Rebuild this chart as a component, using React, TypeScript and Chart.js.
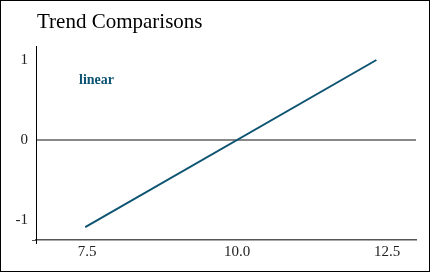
import React, { useEffect, useRef } from 'react';
import { Chart, registerables } from 'chart.js';

Chart.register(...registerables);

const titleText = 'Trend Comparisons';
const seriesLabel = 'linear';
const xValues = [7.47, 12.32];
const yValues = [-1.09, 1.0];
const xTicks = [7.5, 10.0, 12.5];
const yTicks = [-1, 0, 1];

export default function App() {
  const ref = useRef<HTMLCanvasElement>(null);

  useEffect(() => {
    const canvas = ref.current;
    if (!canvas) return;
    const lineColor = '#0e5472';
    const family = '"Liberation Serif", "Times New Roman", serif';

    const deco = {
      id: 'deco',
      afterDraw(chart: any) {
        const c = chart.ctx;
        const a = chart.chartArea;
        c.save();
        c.strokeStyle = '#000';
        c.lineWidth = 1;
        c.strokeRect(0.5, 0.5, chart.width - 1, chart.height - 1);
        // small corner ticks
        c.beginPath();
        c.moveTo(a.left + 0.5, a.bottom);
        c.lineTo(a.left + 0.5, a.bottom + 4);
        c.stroke();
        c.strokeStyle = '#555';
        c.beginPath();
        c.moveTo(a.left - 4, a.bottom + 0.5);
        c.lineTo(a.left, a.bottom + 0.5);
        c.stroke();
        c.fillStyle = '#000';
        c.textAlign = 'left';
        c.textBaseline = 'alphabetic';
        c.font = `21px ${family}`;
        c.fillText(titleText, a.left + 1, 28);
        c.fillStyle = lineColor;
        c.font = `bold 14px ${family}`;
        c.fillText(seriesLabel, a.left + 43, 84);
        c.restore();
      },
    };

    const chart = new Chart(canvas, {
      type: 'line',
      data: {
        datasets: [
          {
            label: seriesLabel,
            data: xValues.map((x, i) => ({ x, y: yValues[i] })),
            borderColor: lineColor,
            borderWidth: 2,
            pointRadius: 0,
            fill: false,
            tension: 0,
          },
        ],
      },
      options: {
        responsive: false,
        animation: false,
        layout: { padding: { top: 46, right: 14, left: 0, bottom: 0 } },
        plugins: {
          legend: { display: false },
          tooltip: { enabled: false },
          title: { display: false },
        },
        scales: {
          x: {
            type: 'linear',
            position: 'bottom',
            min: 6.65,
            max: 12.98,
            afterBuildTicks: (s: any) => {
              s.ticks = xTicks.map((v) => ({ value: v }));
            },
            afterFit: (s: any) => {
              s.height = 32;
            },
            grid: { display: false, drawTicks: false },
            border: { display: true, color: '#555', width: 1.5 },
            ticks: {
              padding: 3,
              autoSkip: false,
              maxRotation: 0,
              color: '#222',
              font: { family, size: 15 },
              callback: (v: any) => Number(v).toFixed(1),
            },
          },
          y: {
            type: 'linear',
            min: -1.25,
            max: 1.175,
            afterBuildTicks: (s: any) => {
              s.ticks = yTicks.map((v) => ({ value: v }));
            },
            afterFit: (s: any) => {
              s.width = 36;
            },
            grid: {
              drawTicks: false,
              lineWidth: 2,
              color: (ctx: any) =>
                ctx.tick && ctx.tick.value === 0 ? '#888888' : 'rgba(0,0,0,0)',
            },
            border: { display: true, color: '#000', width: 1 },
            ticks: {
              padding: 8,
              color: '#222',
              font: { family, size: 15 },
              callback: (v: any) => String(v),
            },
          },
        },
      },
      plugins: [deco],
    });

    return () => chart.destroy();
  }, []);

  return (
    <div style={{ position: 'absolute', left: 0, top: 0, width: 430, height: 272 }}>
      <canvas ref={ref} width={430} height={272} style={{ display: 'block' }} />
    </div>
  );
}
